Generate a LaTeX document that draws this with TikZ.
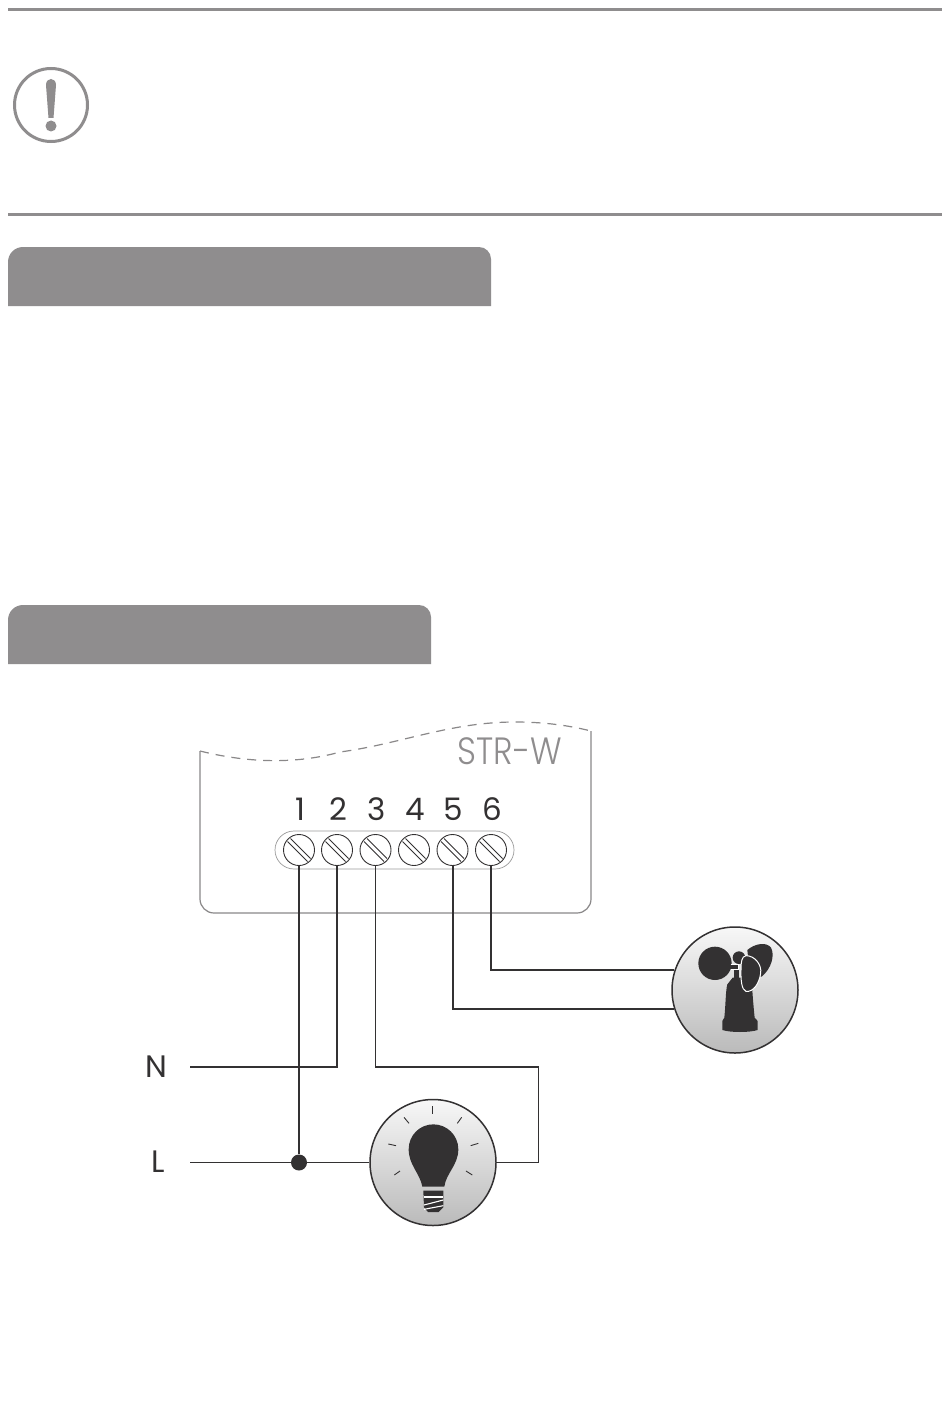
\documentclass[tikz,border=0pt]{standalone}
\usepackage{fontspec}
\usetikzlibrary{calc}
\setmainfont{Poppins}[UprightFont={* Light}]
\newfontfamily\regfont{Poppins}
\definecolor{bargray}{HTML}{8F8D8E}
\definecolor{ink}{HTML}{333132}
\definecolor{bodyline}{HTML}{8A8889}
\tikzset{
  rulebar/.style={draw=bargray,line width=3pt},
  banner/.style={fill=bargray},
  wire/.style={draw=ink,line width=2pt,line join=miter},
  thinwire/.style={draw=ink,line width=1.4pt,line join=miter},
  screw/.style={circle,draw=ink,line width=.9pt,minimum size=31pt,inner sep=0pt,fill=white},
  slot/.style={draw=ink,line width=.9pt},
  num/.style={text=ink,font=\regfont\fontsize{31}{31}\selectfont,inner sep=0pt},
  device/.style={circle,draw=ink,line width=1.5pt,minimum size=126pt,inner sep=0pt,top color=white!97!black,bottom color=black!27},
  dev/.style={fill=ink,draw=none},
  ray/.style={draw=ink,line width=.9pt}
}
\begin{document}
\begin{tikzpicture}[x=1pt,y=-1pt]
\useasboundingbox (0,0) rectangle (950,1402);
\fill[white] (0,0) rectangle (950,1402);
% top rules
\draw[rulebar] (8,9.5) -- (942,9.5);
\draw[rulebar] (8,214) -- (942,214);
% warning icon
\draw[draw=bargray,line width=3pt] (51,105) circle (36.5);
\fill[bargray] (46,85) .. controls (46,77) and (56,77) .. (56,85) -- (53.5,118) -- (48.5,118) -- cycle;
\fill[bargray] (51,126) circle (5.5);
% banners
\fill[banner] (8,306) -- (8,262) arc[start angle=180,end angle=90,x radius=15,y radius=-15] -- (479,247) arc[start angle=90,end angle=0,x radius=12,y radius=-12] -- (491,306) -- cycle;
\fill[banner] (8,664) -- (8,620) arc[start angle=180,end angle=90,x radius=15,y radius=-15] -- (419,605) arc[start angle=90,end angle=0,x radius=12,y radius=-12] -- (431,664) -- cycle;
% housing
\draw[draw=bodyline,line width=1.2pt] (200,751) -- (200,899) arc[start angle=180,end angle=270,x radius=14,y radius=-14] -- (577,913) arc[start angle=270,end angle=360,x radius=14,y radius=-14] -- (591,731);
\draw[draw=bodyline,line width=1.2pt,dash pattern=on 9pt off 7pt] (200,751) .. controls (240,761) and (290,766) .. (340,752) .. controls (400,744) and (450,722) .. (515,722) .. controls (550,722) and (575,727) .. (591,731);
\node[text=bargray,font=\fontsize{38}{38}\selectfont,inner sep=0pt,xscale=.87] (title) at (510,751) {STR-W};
% terminal strip
\draw[draw=black!40,line width=.7pt,rounded corners=19pt] (275,831) rectangle (514,869);
\foreach \i/\x in {1/299,2/337,3/375.5,4/414,5/452.5,6/491}{
  \node[screw] (t\i) at (\x,850) {};
  \draw[slot] ($(t\i.center)+(-11.5,-8.5)$) -- ($(t\i.center)+(8.5,11.5)$);
  \draw[slot] ($(t\i.center)+(-8.5,-11.5)$) -- ($(t\i.center)+(11.5,8.5)$);
  \node[num] (n\i) at (\x+1,809) {\i};
}
% devices
\node[device] (sensor) at (735,990) {};
\node[device] (lamp) at (433,1162.5) {};
% side labels
\node[num] (N) at (156,1067) {N};
\node[num] (L) at (158,1162) {L};
\coordinate (Nend) at (190,1067);
\coordinate (Lend) at (190,1162.5);
\coordinate (bend) at (538.5,1067);
% connectors
\node[circle,fill=ink,minimum size=16pt,inner sep=0pt] (join) at (t1 |- Lend) {};
\draw[wire] (t1.south) -- (join);
\draw[wire] (t2.south) |- (Nend);
\draw[thinwire] (t3.south) |- (bend) -- (bend |- lamp.east) -- (lamp.east);
\draw[thinwire] (Lend) -- (join) -- (lamp.west);
\draw[wire] (t5.south) |- (sensor.197.4);
\draw[wire] (t6.south) |- (sensor.162.4);
% lamp icon
\begin{scope}[shift={(360,1090)},x=.3333pt,y=-.3333pt]
  \fill[dev] (187,290) .. controls (180,250) and (146,225) .. (146,178) .. controls (146,135) and (180,103) .. (220,103) .. controls (260,103) and (295,135) .. (295,178) .. controls (295,225) and (258,250) .. (253,290) -- cycle;
  \fill[dev] (190,302) -- (250,302) -- (250,352) -- (236,366) -- (204,366) -- (192,352) -- cycle;
  \draw[white,line width=1.2pt] (192,321) -- (250,321);
  \draw[white,line width=1.1pt] (192,345) -- (250,330);
  \draw[white,line width=1.1pt] (192,358) -- (250,347);
  \foreach \a/\b/\c/\d in {217/48/217/72,132/82/147/100,305/82/292/100,85/162/108/167,355/160/332/167,103/255/120/243,337/255/318/243}
    \draw[ray] (\a,\b) -- (\c,\d);
\end{scope}
% anemometer icon
\begin{scope}[shift={(660,915)},x=.3333pt,y=-.3333pt]
  \fill[dev] (165,145) circle[radius=50];
  \fill[dev] (237,128) circle[radius=19];
  \fill[dev] (262,105) .. controls (285,85) and (320,80) .. (333,98) .. controls (345,120) and (335,160) .. (305,185) -- (270,180) -- cycle;
  \fill[dev] (218,188) -- (275,188) .. controls (276,220) and (280,270) .. (284,308) -- (293,318) -- (293,345) .. controls (270,353) and (210,353) .. (187,345) -- (187,318) -- (193,308) .. controls (197,270) and (197,225) .. (202,208) -- cycle;
  \fill[dev] (222,146) -- (236,146) -- (236,190) -- (222,190) -- cycle;
  \fill[dev] (208,150) rectangle (236,162);
  \draw[white,line width=1pt] (212,148) -- (236,148) -- (236,163) -- (212,163);
  \draw[white,line width=1pt,fill=ink] (258,122) .. controls (285,122) and (306,150) .. (302,175) .. controls (298,205) and (280,232) .. (258,229) .. controls (245,225) and (242,195) .. (243,165) .. controls (243,140) and (245,124) .. (258,122) -- cycle;
\end{scope}
\end{tikzpicture}
\end{document}
